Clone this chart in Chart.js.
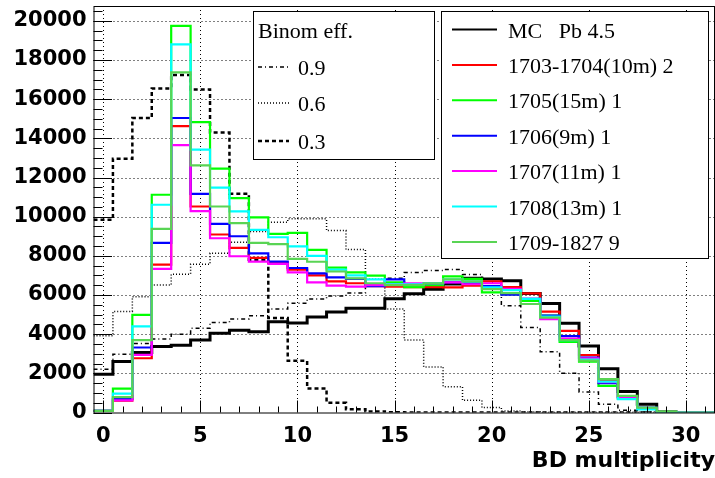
<!DOCTYPE html>
<html>
<head>
<meta charset="utf-8">
<script src="https://cdn.jsdelivr.net/npm/chart.js@4.4.0/dist/chart.umd.min.js"></script>
<style>
  html, body { margin: 0; padding: 0; background: #fff; }
</style>
</head>
<body>
<canvas id="multChart" width="715" height="478"></canvas>
<script>
// bin centres (BD multiplicity)
const bins = [0, 1, 2, 3, 4, 5, 6, 7, 8, 9, 10, 11, 12, 13, 14, 15, 16, 17, 18, 19, 20, 21, 22, 23, 24, 25, 26, 27, 28, 29, 30, 31];

const mcPb = [1950, 2600, 3060, 3370, 3440, 3700, 4050, 4200, 4130, 4630, 4570, 4880, 5130, 5330, 5330, 5810, 6060, 6300, 6560, 6850, 6820, 6730, 6080, 5570, 4560, 3400, 2240, 1070, 420, 30, 0, 0];
const run1703 = [80, 600, 2770, 7550, 14630, 10520, 9090, 8410, 7900, 7650, 7300, 7000, 6700, 6600, 6450, 6430, 6400, 6400, 6390, 6480, 6700, 6400, 6080, 5150, 4170, 2930, 1650, 800, 230, 20, 0, 0];
const run1705 = [80, 1220, 4990, 11120, 19750, 14830, 12450, 10950, 9970, 9120, 9170, 8310, 7400, 7160, 6990, 6650, 6400, 6500, 6950, 6820, 6130, 6050, 5700, 4950, 3610, 2600, 1360, 700, 200, 30, 0, 0];
const run1706 = [80, 700, 3320, 8660, 15040, 11170, 9630, 9000, 8130, 7710, 7380, 7110, 6900, 6820, 6450, 6800, 6550, 6600, 6650, 6600, 6450, 6020, 5800, 4950, 3900, 2800, 1500, 780, 250, 20, 0, 0];
const run1707 = [80, 620, 2940, 7330, 13650, 10280, 8900, 7980, 7710, 7590, 7160, 6650, 6480, 6430, 6500, 6550, 6600, 6600, 6650, 6550, 6600, 6310, 5800, 4770, 3780, 2770, 1550, 750, 200, 20, 0, 0];
const run1708 = [80, 960, 4400, 10610, 18800, 13430, 11480, 10270, 9330, 8950, 8480, 8000, 7300, 7000, 6800, 6550, 6550, 6600, 6800, 6700, 6390, 6250, 5800, 4900, 3700, 2700, 1580, 680, 160, 20, 0, 0];
const run1709 = [80, 790, 3700, 9380, 17370, 12620, 10520, 9670, 8660, 8600, 7850, 7700, 7200, 6850, 6600, 6500, 6500, 6600, 6800, 6700, 6300, 6100, 5540, 4850, 3700, 2650, 1700, 850, 250, 30, 0, 0];

// binomial efficiency applied to MC
const eff09 = [2210, 2980, 3520, 3750, 4000, 4300, 4600, 4780, 4940, 5280, 5580, 5800, 5950, 6100, 6450, 6850, 7150, 7250, 7300, 7050, 6360, 5450, 4340, 3100, 2010, 1050, 420, 110, 30, 0, 0, 0];
const eff06 = [3920, 5160, 5910, 6510, 7060, 7570, 8130, 8690, 9250, 9720, 9890, 9890, 9290, 8320, 6800, 5280, 3700, 2330, 1320, 620, 250, 80, 20, 0, 0, 0, 0, 0, 0, 0, 0, 0];
const eff03 = [9850, 12960, 15040, 16550, 17230, 16500, 14300, 11170, 7800, 4820, 2640, 1220, 500, 160, 50, 15, 0, 0, 0, 0, 0, 0, 0, 0, 0, 0, 0, 0, 0, 0, 0, 0];

const xTicks = [0, 5, 10, 15, 20, 25, 30];
const yTicks = [0, 2000, 4000, 6000, 8000, 10000, 12000, 14000, 16000, 18000, 20000];

const runLabels = ['MC   Pb 4.5', '1703-1704(10m) 2', '1705(15m) 1', '1706(9m) 1', '1707(11m) 1', '1708(13m) 1', '1709-1827 9'];
const effLabels = ['0.9', '0.6', '0.3'];

// histogram outline: each bin becomes a flat segment from low to high edge
function histPoints(values) {
  const pts = [];
  values.forEach((v, i) => {
    pts.push({ x: bins[i] - 0.5, y: v });
    pts.push({ x: bins[i] + 0.5, y: v });
  });
  return pts;
}

function hist(label, values, color, width, dash) {
  return {
    label: label,
    data: histPoints(values),
    borderColor: color,
    borderWidth: width,
    borderDash: dash || [],
    borderJoinStyle: 'miter',
    borderCapStyle: 'butt',
    pointRadius: 0,
    tension: 0,
    fill: false
  };
}

// first dataset is drawn on top
const runSets = [
  hist(runLabels[6], run1709, '#59d454', 2.2),
  hist(runLabels[5], run1708, '#00ffff', 2.2),
  hist(runLabels[4], run1707, '#ff00ff', 2.2),
  hist(runLabels[3], run1706, '#0000ff', 2.2),
  hist(runLabels[2], run1705, '#00ff00', 2.2),
  hist(runLabels[1], run1703, '#ff0000', 2.2),
  hist(runLabels[0], mcPb, '#000000', 3)
];
const effSets = [
  hist(effLabels[0], eff09, '#000000', 1.5, [4, 3, 1, 3]),
  hist(effLabels[1], eff06, '#000000', 1.5, [1, 2]),
  hist(effLabels[2], eff03, '#000000', 2.5, [4, 3])
];

function strokeLine(ctx, x1, y1, x2, y2) {
  ctx.beginPath();
  ctx.moveTo(x1, y1);
  ctx.lineTo(x2, y2);
  ctx.stroke();
}

// ROOT style frame: dotted grid, ticks inside the frame
const framePlugin = {
  id: 'framePlugin',
  beforeDatasetsDraw(chart) {
    const { ctx, chartArea: a, scales: { x, y } } = chart;
    ctx.save();
    ctx.strokeStyle = '#000';
    ctx.lineWidth = 1;
    ctx.setLineDash([1, 3]);
    xTicks.forEach((v) => {
      const px = Math.round(x.getPixelForValue(v)) + 0.5;
      strokeLine(ctx, px, a.top, px, a.bottom);
    });
    yTicks.forEach((v) => {
      if (v === 0) return;
      const py = Math.round(y.getPixelForValue(v)) + 0.5;
      strokeLine(ctx, a.left, py, a.right, py);
    });
    ctx.restore();
  },
  afterDatasetsDraw(chart) {
    const { ctx, chartArea: a, scales: { x, y } } = chart;
    ctx.save();
    ctx.strokeStyle = '#000';
    ctx.lineWidth = 1;
    ctx.strokeRect(a.left + 0.5, a.top + 0.5, a.right - a.left - 1, a.bottom - a.top);
    // y ticks every 500, majors every 2000
    for (let v = 0; v <= y.max; v += 500) {
      const py = Math.round(y.getPixelForValue(v)) + 0.5;
      const len = v % 2000 === 0 ? 18.5 : 9;
      strokeLine(ctx, a.left, py, a.left + len, py);
    }
    // x ticks every bin, majors every 5
    for (let v = 0; v <= 31; v++) {
      const px = Math.round(x.getPixelForValue(v)) + 0.5;
      const len = v % 5 === 0 ? 12 : 6;
      strokeLine(ctx, px, a.bottom, px, a.bottom - len);
    }
    ctx.restore();
  },
  afterDraw(chart) {
    const ctx = chart.ctx;
    ctx.save();
    ctx.font = '22px "Liberation Serif", "Times New Roman", serif';
    ctx.textBaseline = 'alphabetic';
    ctx.textAlign = 'left';

    // box with efficiency curves
    ctx.fillStyle = '#fff';
    ctx.fillRect(253.5, 11.5, 181, 148);
    ctx.strokeStyle = '#000';
    ctx.lineWidth = 1;
    ctx.strokeRect(253.5, 11.5, 181, 148);
    ctx.fillStyle = '#000';
    ctx.fillText('Binom eff.', 258, 38);
    const effRows = [67, 103, 141];
    effSets.forEach((ds, i) => {
      ctx.strokeStyle = ds.borderColor;
      ctx.lineWidth = ds.borderWidth;
      ctx.setLineDash(ds.borderDash);
      strokeLine(ctx, 258, effRows[i], 289, effRows[i]);
      ctx.setLineDash([]);
      ctx.fillText(ds.label, 298, effRows[i] + 8);
    });

    // box with runs
    ctx.fillStyle = '#fff';
    ctx.fillRect(441.5, 11.5, 267, 247);
    ctx.strokeStyle = '#000';
    ctx.lineWidth = 1;
    ctx.strokeRect(441.5, 11.5, 267, 247);
    ctx.fillStyle = '#000';
    const runOrder = runSets.slice().reverse();
    runOrder.forEach((ds, i) => {
      const ry = 29.5 + i * 35.4;
      ctx.strokeStyle = ds.borderColor;
      ctx.lineWidth = 2;
      strokeLine(ctx, 452, ry, 497, ry);
      ctx.fillText(ds.label, 508, ry + 8);
    });
    ctx.restore();
  }
};

const tickFont = { family: '"DejaVu Sans", sans-serif', size: 21, weight: 'bold', lineHeight: 1.2 };

new Chart(document.getElementById('multChart'), {
  type: 'line',
  data: { datasets: runSets.concat(effSets) },
  options: {
    responsive: false,
    devicePixelRatio: 1,
    animation: false,
    events: [],
    layout: { padding: { top: 6, left: 0, right: 0, bottom: 0 } },
    plugins: { legend: { display: false }, tooltip: { enabled: false } },
    scales: {
      x: {
        type: 'linear',
        min: -0.5,
        max: 31.5,
        afterBuildTicks: (s) => { s.ticks = xTicks.map((v) => ({ value: v })); },
        afterFit: (s) => { s.height = 65.5; s.paddingLeft = 0; s.paddingRight = 0; },
        ticks: { color: '#000', font: tickFont, padding: 3, maxRotation: 0, autoSkip: false, callback: (v) => String(v) },
        grid: { display: false },
        border: { display: false },
        title: {
          display: true,
          text: 'BD multiplicity',
          align: 'end',
          color: '#000',
          font: { family: '"DejaVu Sans", sans-serif', size: 22, weight: 'bold', lineHeight: 1.2 },
          padding: { top: 0, bottom: 4 }
        }
      },
      y: {
        min: 0,
        max: 20760,
        afterBuildTicks: (s) => { s.ticks = yTicks.map((v) => ({ value: v })); },
        afterFit: (s) => { s.width = 93.5; s.paddingTop = 0; s.paddingBottom = 0; },
        ticks: { color: '#000', font: tickFont, padding: 7, callback: (v) => String(v) },
        grid: { display: false, drawTicks: false },
        border: { display: false }
      }
    }
  },
  plugins: [framePlugin]
});
</script>
</body>
</html>
